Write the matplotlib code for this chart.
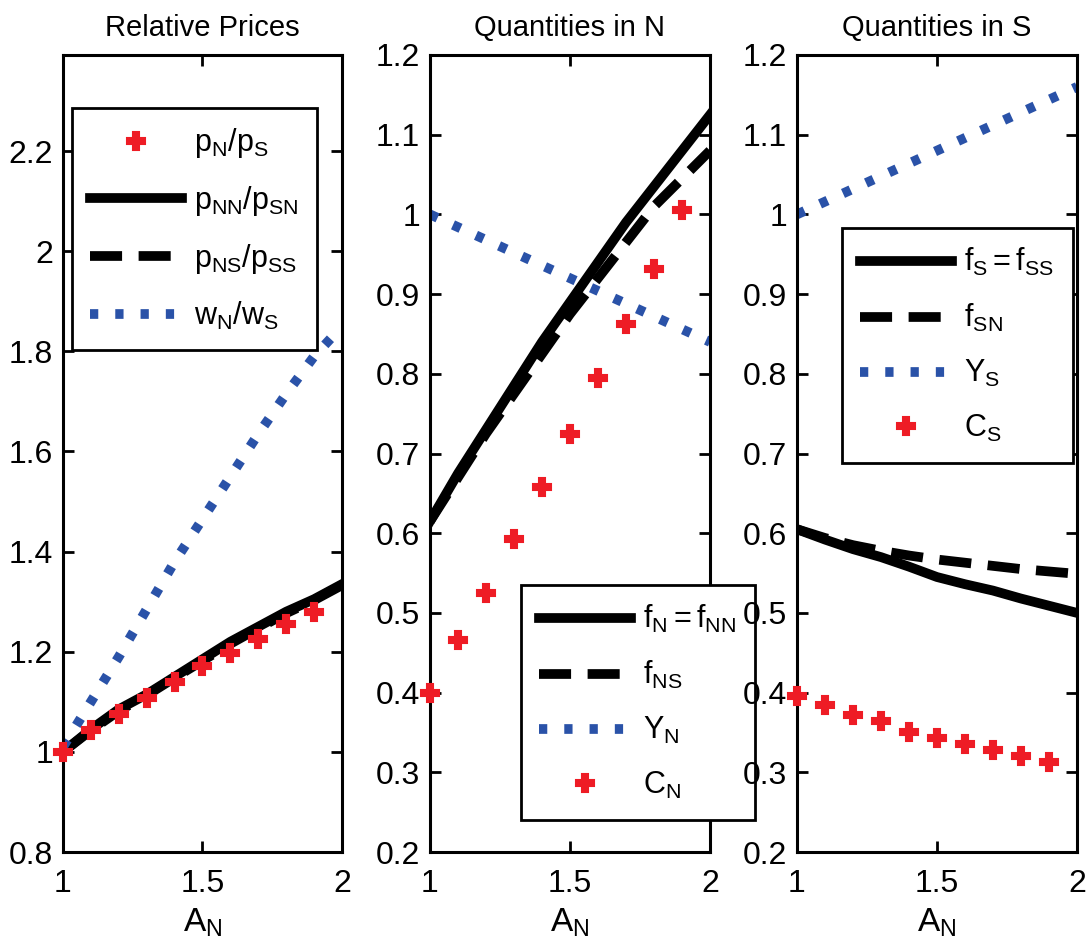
import matplotlib.pyplot as plt
from matplotlib.ticker import FormatStrFormatter

plt.rcParams['font.family'] = ['Liberation Sans', 'DejaVu Sans']
plt.rcParams['mathtext.fontset'] = 'custom'
plt.rcParams['mathtext.rm'] = 'Liberation Sans'
plt.rcParams['mathtext.it'] = 'Liberation Sans'

# A_N grid
a_n = [1.0, 1.1, 1.2, 1.3, 1.4, 1.5, 1.6, 1.7, 1.8, 1.9, 2.0]
a_n_dots = [1.0, 1.1, 1.2, 1.3, 1.4, 1.5, 1.6, 1.7, 1.8, 1.9]

# relative prices
pn_ps = [1.0, 1.043, 1.075, 1.108, 1.14, 1.172, 1.197, 1.225, 1.255, 1.28]
pnn_psn = [1.0, 1.045, 1.085, 1.115, 1.15, 1.185, 1.22, 1.25, 1.28, 1.305, 1.335]
pns_pss = [1.0, 1.043, 1.082, 1.113, 1.148, 1.182, 1.216, 1.247, 1.277, 1.303, 1.333]
wn_ws = [1.01, 1.10, 1.19, 1.285, 1.38, 1.465, 1.55, 1.635, 1.715, 1.79, 1.85]

# quantities in N
f_n = [0.615, 0.675, 0.73, 0.785, 0.84, 0.89, 0.94, 0.99, 1.035, 1.08, 1.125]
f_ns = [0.615, 0.67, 0.725, 0.775, 0.825, 0.875, 0.92, 0.965, 1.01, 1.045, 1.08]
y_n = [1.0, 0.984, 0.968, 0.952, 0.936, 0.92, 0.904, 0.888, 0.872, 0.856, 0.84]
c_n = [0.40, 0.466, 0.525, 0.593, 0.658, 0.725, 0.795, 0.862, 0.932, 1.005]

# quantities in S
f_s = [0.605, 0.592, 0.58, 0.57, 0.558, 0.545, 0.536, 0.528, 0.518, 0.509, 0.50]
f_sn = [0.605, 0.594, 0.585, 0.578, 0.572, 0.567, 0.563, 0.559, 0.555, 0.552, 0.549]
y_s = [1.0, 1.016, 1.032, 1.048, 1.064, 1.08, 1.096, 1.112, 1.128, 1.144, 1.16]
c_s = [0.396, 0.384, 0.372, 0.364, 0.351, 0.343, 0.336, 0.328, 0.320, 0.313]

red = '#ee1c25'
blue = '#2a52a8'
W, H = 1091, 950

fig = plt.figure(figsize=(W / 100, H / 100), dpi=100)
ax1 = fig.add_axes([63 / W, 1 - 852 / H, 279 / W, 797 / H])
ax2 = fig.add_axes([430 / W, 1 - 852 / H, 280 / W, 797 / H])
ax3 = fig.add_axes([797 / W, 1 - 852 / H, 280 / W, 797 / H])

lw = 7
dash = (0, (3.3, 1.7))
dot = (0, (0.85, 1.75))
msize = 13


def lbl(s):
    return r'$\mathregular{' + s + '}$'


def style(ax, title, ylim, yticks):
    ax.set_xlim(1, 2)
    ax.set_ylim(*ylim)
    ax.set_xticks([1, 1.5, 2])
    ax.set_yticks(yticks)
    ax.xaxis.set_major_formatter(FormatStrFormatter('%g'))
    ax.yaxis.set_major_formatter(FormatStrFormatter('%g'))
    ax.tick_params(direction='in', top=True, right=True, length=8, width=2,
                   labelsize=23, pad=7)
    ax.tick_params(axis='x', pad=12)
    for sp in ax.spines.values():
        sp.set_linewidth(2.2)
    ax.set_title(title, fontsize=21, pad=14)
    ax.set_xlabel(lbl('A_N'), fontsize=24, labelpad=6)


def legend(ax, x0, y0):
    lg = ax.legend(loc='upper left', bbox_to_anchor=(x0 / W, 1 - y0 / H),
                   bbox_transform=fig.transFigure, borderaxespad=0,
                   fontsize=22, handlelength=3.0, labelspacing=0.78,
                   borderpad=0.6, fancybox=False, framealpha=1,
                   edgecolor='black', handletextpad=0.4)
    lg.get_frame().set_linewidth(2)
    lg.set_zorder(10)


def dots(ax, y, name):
    ax.plot(a_n_dots, y, 'P', color=red, ms=msize, mew=1.5, mec=red,
            clip_on=False, zorder=5, label=lbl(name))


# panel 1
dots(ax1, pn_ps, 'p_N/p_S')
ax1.plot(a_n, pnn_psn, color='black', lw=lw, label=lbl('p_{NN}/p_{SN}'))
ax1.plot(a_n, pns_pss, color='black', lw=lw, ls=dash, label=lbl('p_{NS}/p_{SS}'))
ax1.plot(a_n, wn_ws, color=blue, lw=lw, ls=dot, label=lbl('w_N/w_S'))
style(ax1, 'Relative Prices', (0.8, 2.392), [0.8, 1, 1.2, 1.4, 1.6, 1.8, 2, 2.2])
legend(ax1, 72, 108)

# panel 2
ax2.plot(a_n, f_n, color='black', lw=lw, label=lbl('f_N{=}f_{NN}'))
ax2.plot(a_n, f_ns, color='black', lw=lw, ls=dash, label=lbl('f_{NS}'))
ax2.plot(a_n, y_n, color=blue, lw=lw, ls=dot, label=lbl('Y_N'))
dots(ax2, c_n, 'C_N')
style(ax2, 'Quantities in N', (0.2, 1.2), [0.2, 0.3, 0.4, 0.5, 0.6, 0.7, 0.8, 0.9, 1, 1.1, 1.2])
legend(ax2, 521, 585)

# panel 3
ax3.plot(a_n, f_s, color='black', lw=lw, label=lbl('f_S{=}f_{SS}'))
ax3.plot(a_n, f_sn, color='black', lw=lw, ls=dash, label=lbl('f_{SN}'))
ax3.plot(a_n, y_s, color=blue, lw=lw, ls=dot, label=lbl('Y_S'))
dots(ax3, c_s, 'C_S')
style(ax3, 'Quantities in S', (0.2, 1.2), [0.2, 0.3, 0.4, 0.5, 0.6, 0.7, 0.8, 0.9, 1, 1.1, 1.2])
legend(ax3, 842, 228)

fig.savefig('out.png', dpi=100)
